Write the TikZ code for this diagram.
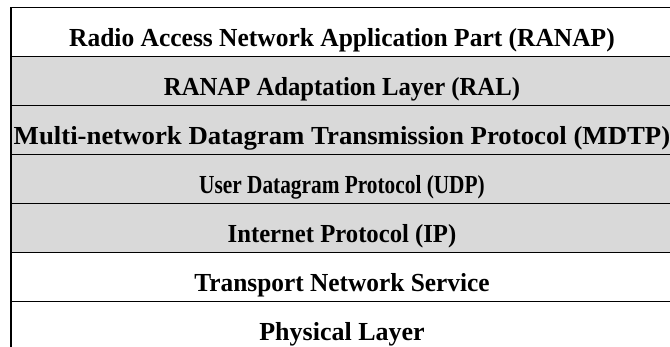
\documentclass[tikz,border=0pt]{standalone}
\usepackage{fontspec}
\setmainfont{Liberation Serif}
\usetikzlibrary{positioning}
\definecolor{layergray}{RGB}{217,217,217}
\tikzset{
  every node/.style = {rectangle, draw=black, line width=1.4pt,
    font=\bfseries\fontsize{26}{30}\selectfont, minimum width=662pt,
    inner sep=0pt, outer sep=0pt, text height=39pt, text depth=10pt},
  shaded/.style = {fill=layergray},
}
\newcommand{\layertext}[2]{\scalebox{#1}[1]{#2}}

\begin{document}
\begin{tikzpicture}[x=1pt,y=-1pt]
\useasboundingbox (0,0) rectangle (670,347);
\node[anchor=north west] (ranap) at (11,7.5) {\layertext{0.98}{Radio Access Network Application Part (RANAP)}};
\node[shaded, below=0pt of ranap] (ral) {\layertext{0.95}{RANAP Adaptation Layer (RAL)}};
\node[shaded, below=0pt of ral] (mdtp) {\layertext{1.03}{Multi-network Datagram Transmission Protocol (MDTP)}};
\node[shaded, below=0pt of mdtp] (udp) {\layertext{0.82}{User Datagram Protocol (UDP)}};
\node[shaded, below=0pt of udp] (ip) {\layertext{0.95}{Internet Protocol (IP)}};
\node[below=0pt of ip] (tns) {\layertext{0.975}{Transport Network Service}};
\node[below=0pt of tns] (phys) {\layertext{1.0}{Physical Layer}};
\end{tikzpicture}
\end{document}
